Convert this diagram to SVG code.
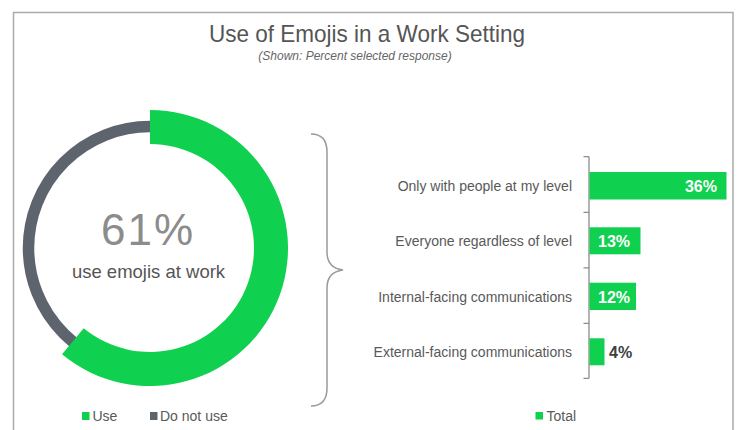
<svg xmlns="http://www.w3.org/2000/svg" width="737" height="430" viewBox="0 0 737 430">
<style>
  .t { font-family: "Liberation Sans", Arial, sans-serif; }
  .lbl { font-size: 14px; fill: #595959; text-anchor: end; }
  .val { font-size: 16px; font-weight: bold; fill: #ffffff; }
  .bar { fill: #0fd14f; }
  .leg { font-size: 14px; fill: #595959; }
  .axis { stroke: #8c8c8c; stroke-width: 1.3; fill: none; }
</style>
<rect x="0" y="0" width="737" height="430" fill="#ffffff"/>
<rect x="13.5" y="12.5" width="719.5" height="440" fill="none" stroke="#aaaaaa" stroke-width="1.5"/>

<g id="title">
  <text class="t" x="367" y="41.5" font-size="24" fill="#555555" text-anchor="middle" textLength="316" lengthAdjust="spacingAndGlyphs">Use of Emojis in a Work Setting</text>
  <text class="t" x="355" y="60" font-size="12" font-style="italic" fill="#666666" text-anchor="middle">(Shown: Percent selected response)</text>
</g>

<g id="donut">
  <circle cx="150" cy="248" r="121.5" fill="none" stroke="#5d646e" stroke-width="11.5"/>
  <path d="M150,110 A138,138 0 1 1 62.04,354.33 L83.71,328.13 A104,104 0 1 0 150,144 Z" class="bar"/>
  <text class="t" x="148" y="245" font-size="44" font-weight="300" fill="#8c8c8c" text-anchor="middle" letter-spacing="2">61%</text>
  <text class="t" x="148.5" y="277.5" font-size="18.5" fill="#555555" text-anchor="middle">use emojis at work</text>
</g>

<g id="donut-legend">
  <rect x="82" y="412" width="7.5" height="8" fill="#0fd14f"/>
  <text class="t leg" x="92.5" y="420.5">Use</text>
  <rect x="150" y="412" width="7.5" height="8" fill="#5d646e"/>
  <text class="t leg" x="160" y="420.5">Do not use</text>
</g>

<g id="connectors">
  <path d="M311,134 Q327,134 327,152 L327,252 Q327,268 343,270 Q327,272 327,288 L327,388 Q327,406 311,406" fill="none" stroke="#9a9a9a" stroke-width="1.5"/>
</g>

<g id="axis">
  <path class="axis" d="M589,156.7 L589,378.3 M583.5,156.7 L589,156.7 M583.5,212.3 L589,212.3 M583.5,267.8 L589,267.8 M583.5,323.3 L589,323.3 M583.5,378.3 L589,378.3"/>
</g>

<g id="bar-1">
  <text class="t lbl" x="572" y="190.5">Only with people at my level</text>
  <rect class="bar" x="589.5" y="172" width="137" height="27.5"/>
  <text class="t val" x="717" y="191.5" text-anchor="end">36%</text>
</g>
<g id="bar-2">
  <text class="t lbl" x="572" y="246">Everyone regardless of level</text>
  <rect class="bar" x="589.5" y="227.3" width="51" height="27"/>
  <text class="t val" x="598" y="246.7">13%</text>
</g>
<g id="bar-3">
  <text class="t lbl" x="572" y="301.5">Internal-facing communications</text>
  <rect class="bar" x="589.5" y="282.7" width="46.5" height="27.3"/>
  <text class="t val" x="598" y="302.5">12%</text>
</g>
<g id="bar-4">
  <text class="t lbl" x="572" y="357">External-facing communications</text>
  <rect class="bar" x="589.5" y="338.3" width="15" height="27"/>
  <text class="t val" x="609" y="358.3" fill="#404040" style="fill:#404040">4%</text>
</g>

<g id="bar-legend">
  <rect x="535.5" y="412" width="7.5" height="7.5" fill="#0fd14f"/>
  <text class="t leg" x="546.5" y="420.5">Total</text>
</g>
</svg>
